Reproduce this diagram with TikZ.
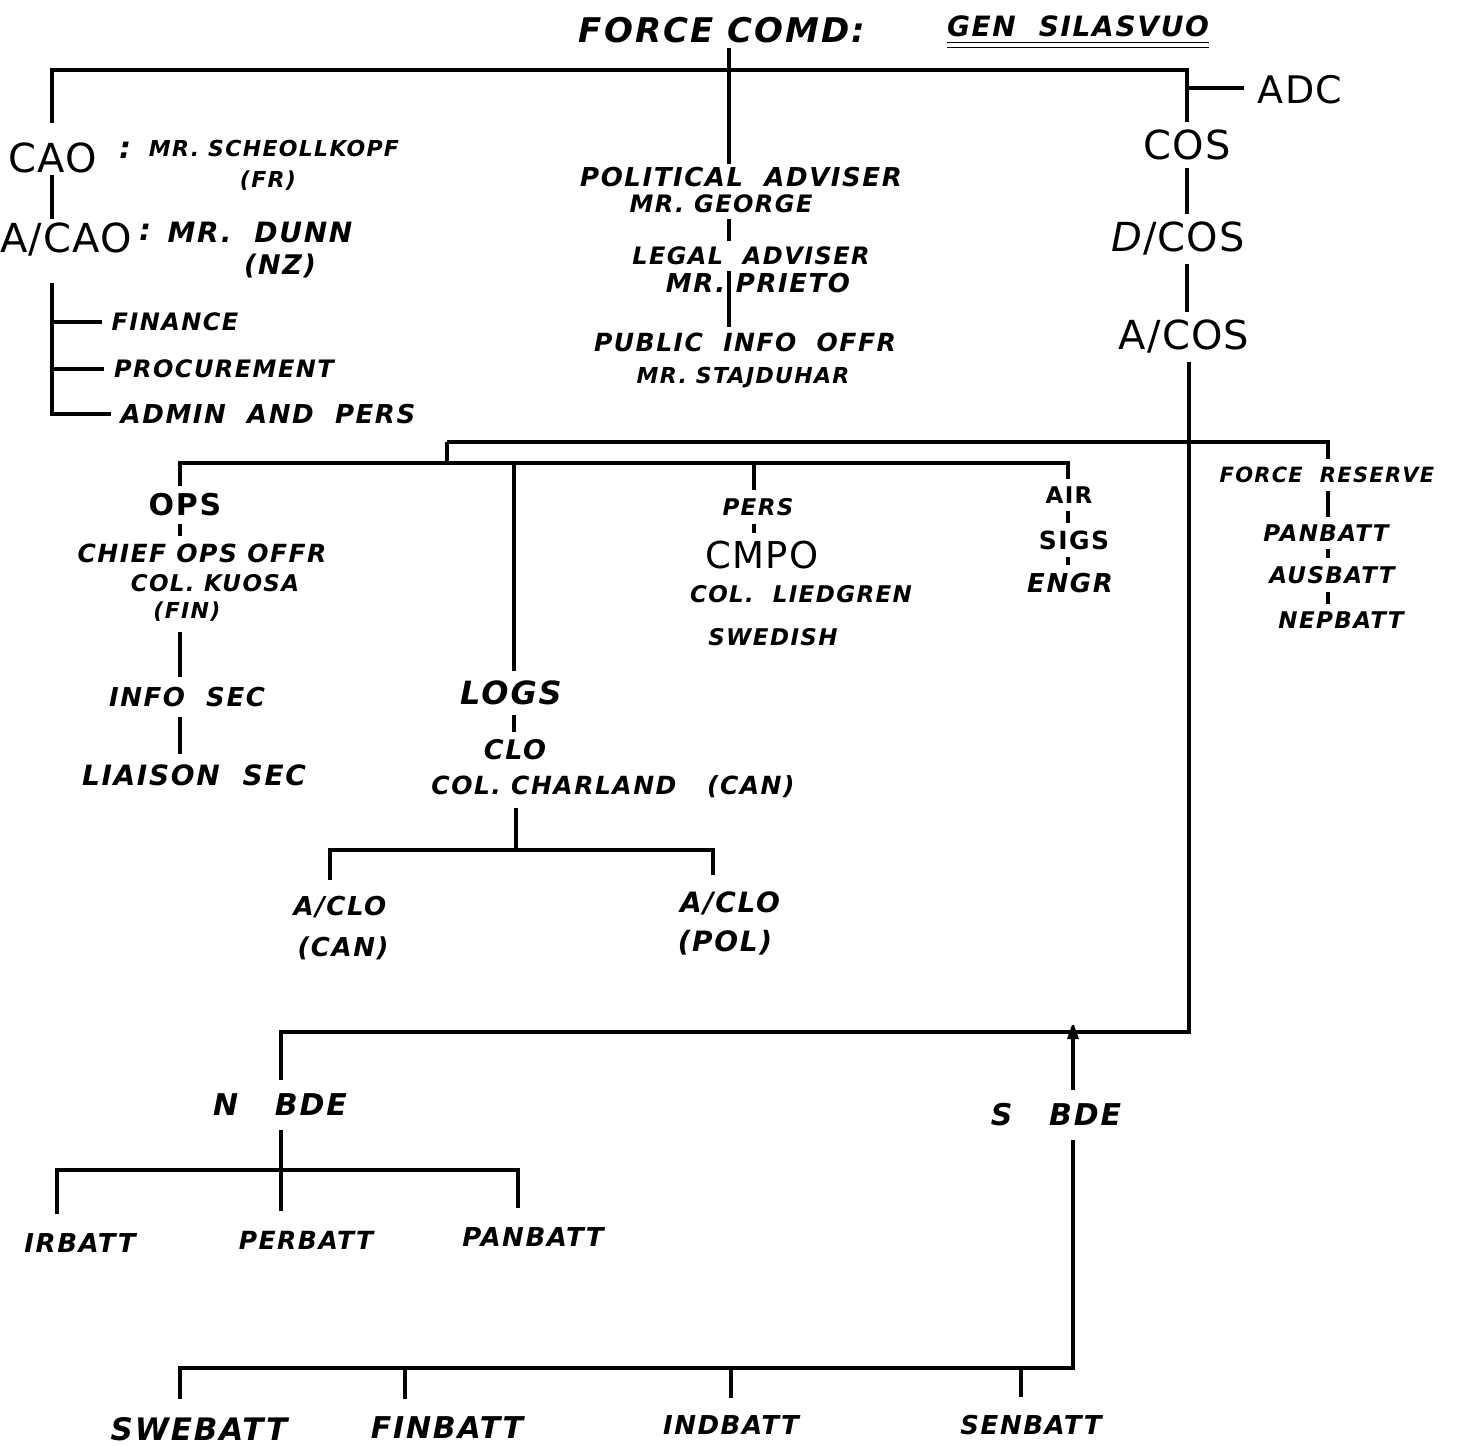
\documentclass[tikz,border=0pt]{standalone}
\usepackage{fontspec}
\setmainfont{DejaVu Sans}
\newfontfamily\handfam[LetterSpace=6]{DejaVu Sans}
\newfontfamily\uprfam[LetterSpace=3]{DejaVu Sans}
\newcommand\hfont[1]{\fontsize{#1}{#1}\handfam\bfseries\itshape\selectfont}
\newcommand\ufont[1]{\fontsize{#1}{#1}\uprfam\selectfont}
\newcommand\bfont[1]{\fontsize{#1}{#1}\handfam\bfseries\selectfont}
\tikzset{
  hnd/.style={font={\hfont{#1}}, inner sep=0pt, outer sep=6pt},
  upr/.style={font={\ufont{#1}}, inner sep=0pt, outer sep=6pt},
  ubd/.style={font={\bfont{#1}}, inner sep=0pt, outer sep=6pt},
  conn/.style={line width=3.2pt},
}
\begin{document}
\begin{tikzpicture}[x=1pt,y=-1pt]
\useasboundingbox (0,0) rectangle (1465,1446);
\fill[white] (0,0) rectangle (1465,1446);
% column coordinates
\coordinate (xL) at (52,0);
\coordinate (xC) at (729,0);
\coordinate (xR) at (1187,0);
\coordinate (xO) at (180,0);
\coordinate (xG) at (514,0);
\coordinate (xP) at (754,0);
\coordinate (xA) at (1068,0);
\coordinate (xF) at (1328,0);
\coordinate (xN) at (281,0);
\coordinate (xS) at (1073,0);
\coordinate (xa1) at (330,0);
\coordinate (xa2) at (713,0);
\coordinate (xir) at (57,0);
\coordinate (xpn) at (518,0);
\coordinate (xsw) at (180,0);
\coordinate (xfi) at (405,0);
\coordinate (xin) at (731,0);
\coordinate (xse) at (1021,0);
% title
\node[hnd=34] (title) at (722,30) {FORCE COMD:};
\node[hnd=28, outer sep=0pt] (gen) at (1078,26) {GEN~~SILASVUO};
\draw[line width=1.6pt] ([yshift=-6pt]gen.south west) -- ([yshift=-6pt]gen.south east);
\draw[line width=1.6pt] ([yshift=-11pt]gen.south west) -- ([yshift=-11pt]gen.south east);
\coordinate (ctop) at (729,48);
\coordinate (topbar) at (729,70);
% left column
\node[upr=40, outer ysep=2pt] (cao) at (53,158) {CAO};
\node[hnd=30] (caoc) at (125,150) {:};
\node[hnd=22] (scheo) at (274,148) {MR. SCHEOLLKOPF};
\node[hnd=22] (fr) at (268,181) {(FR)};
\node[upr=40, outer ysep=4pt] (acao) at (66,240) {A/CAO};
\node[hnd=30] (acaoc) at (145,232) {:};
\node[hnd=28] (dunn) at (260,232) {MR.~~DUNN};
\node[hnd=27] (nz) at (280,266) {(NZ)};
\node[hnd=24, outer xsep=10pt] (finance) at (175,322) {FINANCE};
\node[hnd=24, outer xsep=10pt] (proc) at (224,369) {PROCUREMENT};
\node[hnd=26, outer xsep=10pt] (admin) at (268,414) {ADMIN~~AND~~PERS};
% centre column
\node[hnd=26, outer sep=3pt] (polit) at (741,177) {POLITICAL~~ADVISER};
\node[hnd=24] (george) at (721,204) {MR. GEORGE};
\node[hnd=24] (legal) at (751,256) {LEGAL~~ADVISER};
\node[hnd=26] (prieto) at (758,283) {MR.~PRIETO};
\node[hnd=25] (public) at (745,342) {PUBLIC~~INFO~~OFFR};
\node[hnd=22] (stajd) at (743,378) {MR. STAJDUHAR};
% right column
\node[upr=38, outer sep=14pt] (adc) at (1300,90) {ADC};
\node[upr=40, outer ysep=8pt] (cos) at (1187,145) {COS};
\node[upr=40, outer ysep=8pt] (dcos) at (1178,239) {\textit{D}/COS};
\node[upr=40, outer ysep=8pt] (acos) at (1184,337) {A/COS};
% middle tier
\node[ubd=30, outer ysep=8pt] (ops) at (185,505) {OPS};
\node[hnd=25, outer ysep=8pt] (chief) at (202,553) {CHIEF OPS OFFR};
\node[hnd=23] (kuosa) at (215,583) {COL. KUOSA};
\node[hnd=22, outer ysep=10pt] (fin) at (187,612) {(FIN)};
\node[hnd=26, outer ysep=10pt] (infosec) at (187,697) {INFO~~SEC};
\node[hnd=28, outer ysep=10pt] (liaison) at (194,775) {LIAISON~~SEC};
\node[hnd=32, outer ysep=10pt] (logs) at (511,693) {LOGS};
\node[hnd=27, outer ysep=8pt] (clo) at (515,750) {CLO};
\node[hnd=25, outer ysep=10pt] (charland) at (613,787) {COL. CHARLAND~~~(CAN)};
\node[hnd=26, outer ysep=16pt] (aclo1) at (340,907) {A/CLO};
\node[hnd=26] (can1) at (343,948) {(CAN)};
\node[hnd=28, outer ysep=16pt] (aclo2) at (730,903) {A/CLO};
\node[hnd=28] (pol) at (725,943) {(POL)};
\node[hnd=23, outer ysep=8pt] (pers) at (758,507) {PERS};
\node[upr=37, outer ysep=8pt] (cmpo) at (762,555) {CMPO};
\node[hnd=23] (liedgren) at (801,594) {COL.~~LIEDGREN};
\node[hnd=23] (swedish) at (773,637) {SWEDISH};
\node[ubd=23, outer ysep=8pt] (air) at (1069,495) {AIR};
\node[ubd=25, outer ysep=8pt] (sigs) at (1074,540) {SIGS};
\node[hnd=26, outer ysep=8pt] (engr) at (1070,583) {ENGR};
\node[hnd=21, outer ysep=8pt] (fres) at (1327,475) {FORCE~~RESERVE};
\node[hnd=23, outer ysep=8pt] (frpan) at (1326,533) {PANBATT};
\node[hnd=23, outer ysep=8pt] (frau) at (1332,575) {AUSBATT};
\node[hnd=23, outer ysep=8pt] (frnep) at (1341,620) {NEPBATT};
% brigades
\node[hnd=30, outer ysep=14pt] (nbde) at (280,1105) {N~~~BDE};
\node[hnd=26, outer ysep=20pt] (irb) at (80,1243) {IRBATT};
\node[hnd=25, outer ysep=20pt] (perb) at (306,1240) {PERBATT};
\node[hnd=26, outer ysep=20pt] (panb) at (533,1237) {PANBATT};
\node[hnd=30, outer ysep=14pt] (sbde) at (1056,1115) {S~~~BDE};
\node[hnd=31, outer ysep=18pt] (sweb) at (199,1429) {SWEBATT};
\node[hnd=30, outer ysep=18pt] (finb) at (447,1428) {FINBATT};
\node[hnd=26, outer ysep=18pt] (indb) at (731,1425) {INDBATT};
\node[hnd=26, outer ysep=18pt] (senb) at (1031,1425) {SENBATT};
% connectors: top
\draw[conn] (ctop) -- (polit.north -| xC);
\draw[conn, shorten <=18pt] (cao.north -| xL) -- (topbar -| xL) -- (topbar -| xR) -- (cos.north -| xR);
\coordinate (adcj) at (1187,88);
\draw[conn] (adcj) -- (adcj -| adc.west);
\draw[conn] (cao.south -| xL) -- (acao.north -| xL);
\draw[conn, shorten <=22pt] (acao.south -| xL) -- (admin.west -| xL) -- (admin.west);
\draw[conn] (finance.west -| xL) -- (finance.west);
\draw[conn] (proc.west -| xL) -- (proc.west);
\draw[conn] (george.south -| xC) -- (legal.north -| xC);
\draw[conn] (legal.south -| xC) -- (public.north -| xC);
\draw[conn] (cos.south -| xR) -- (dcos.north -| xR);
\draw[conn] (dcos.south -| xR) -- (acos.north -| xR);
% brigade bar
\coordinate (bj) at (1189,1032);
\coordinate (sj) at (1073,1032);
\draw[conn] (acos.south -| bj) -- (bj) -- (bj -| xN) -- (nbde.north -| xN);
\draw[conn] (sbde.north -| xS) -- (sj);
\fill (sj) ++(-6pt,-7pt) -- ++(12pt,0pt) -- ++(-5pt,14pt) -- ++(-2pt,0pt) -- cycle;
% middle tier bars
\coordinate (m1) at (447,442);
\coordinate (m2) at (447,463);
\draw[conn] (m1) -- (m1 -| xF) -- (fres.north -| xF);
\draw[conn] (m1) -- (m2);
\draw[conn] (ops.north -| xO) -- (m2 -| xO) -- (m2 -| xA) -- (air.north -| xA);
\draw[conn] (m2 -| xG) -- (logs.north -| xG);
\draw[conn] (m2 -| xP) -- (pers.north -| xP);
% ops
\draw[conn] (ops.south -| xO) -- (chief.north -| xO);
\draw[conn] (fin.south -| xO) -- (infosec.north -| xO);
\draw[conn] (infosec.south -| xO) -- (liaison.north -| xO);
% logs
\draw[conn] (logs.south -| xG) -- (clo.north -| xG);
\coordinate (cb) at (516,850);
\draw[conn] (charland.south -| cb) -- (cb);
\draw[conn] (aclo1.north -| xa1) -- (cb -| xa1) -- (cb -| xa2) -- (aclo2.north -| xa2);
% pers
\draw[conn] (pers.south -| xP) -- (cmpo.north -| xP);
% air
\draw[conn] (air.south -| xA) -- (sigs.north -| xA);
\draw[conn] (sigs.south -| xA) -- (engr.north -| xA);
% force reserve
\draw[conn] (fres.south -| xF) -- (frpan.north -| xF);
\draw[conn] (frpan.south -| xF) -- (frau.north -| xF);
\draw[conn] (frau.south -| xF) -- (frnep.north -| xF);
% N BDE
\coordinate (nb) at (281,1170);
\draw[conn] (nbde.south -| xN) -- (perb.north -| xN);
\draw[conn] (irb.north -| xir) -- (nb -| xir) -- (nb -| xpn) -- (panb.north -| xpn);
% S BDE
\coordinate (sb) at (1073,1368);
\draw[conn] (sbde.south -| xS) -- (sb) -- (sb -| xsw) -- (sweb.north -| xsw);
\draw[conn] (sb -| xfi) -- (finb.north -| xfi);
\draw[conn] (sb -| xin) -- (indb.north -| xin);
\draw[conn] (sb -| xse) -- (senb.north -| xse);
\end{tikzpicture}
\end{document}
